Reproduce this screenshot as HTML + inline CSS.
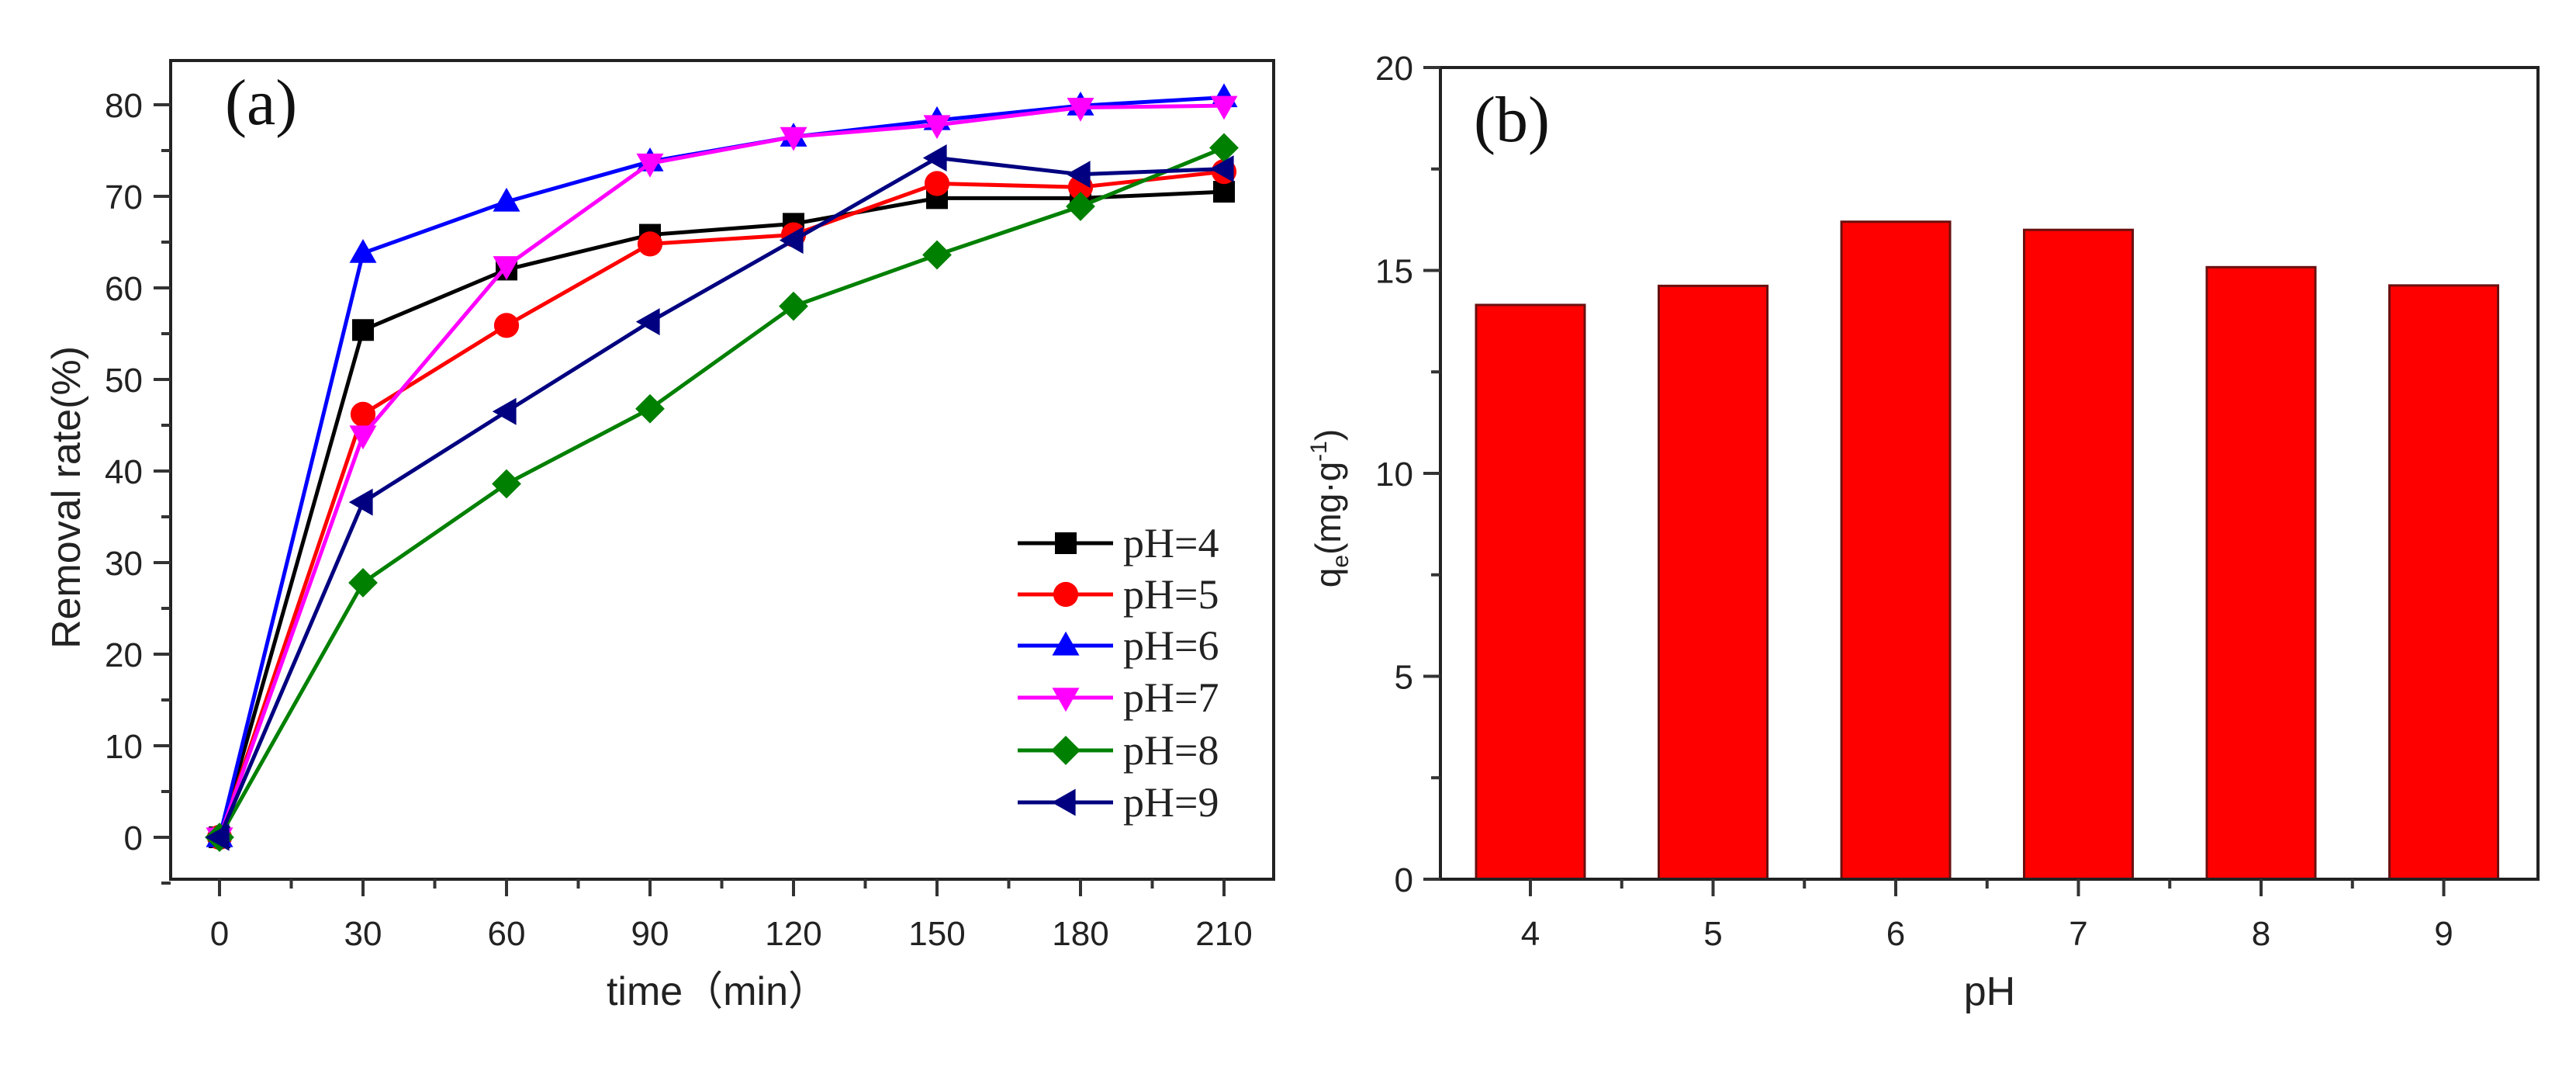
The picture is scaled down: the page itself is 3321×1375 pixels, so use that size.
<!DOCTYPE html>
<html><head><meta charset="utf-8"><style>
html,body{margin:0;padding:0;background:#fff;}
svg{display:block;}
</style></head><body>
<svg id="fig" width="3321" height="1375" viewBox="0 0 3321 1375" xmlns="http://www.w3.org/2000/svg">
<rect x="0" y="0" width="3321" height="1375" fill="#fff"/>
<g id="pa"></g>
<g id="pb"></g>
</svg>
<script>
// Panel (a) data
const times = [0, 30, 60, 90, 120, 150, 180, 210];
const seriesLabels = ["pH=4", "pH=5", "pH=6", "pH=7", "pH=8", "pH=9"];
const pH4 = [0, 55.4, 62.0, 65.8, 67.0, 69.8, 69.8, 70.5];
const pH5 = [0, 46.2, 55.9, 64.8, 65.8, 71.4, 71.0, 72.7];
const pH6 = [0, 63.8, 69.4, 73.8, 76.5, 78.3, 79.9, 80.8];
const pH7 = [0, 43.9, 62.4, 73.6, 76.5, 77.8, 79.7, 79.9];
const pH8 = [0, 27.8, 38.6, 46.8, 58.0, 63.6, 68.9, 75.3];
const pH9 = [0, 36.6, 46.5, 56.3, 65.2, 74.2, 72.4, 73.0];
const xTicksA = [0, 30, 60, 90, 120, 150, 180, 210];
const yTicksA = [0, 10, 20, 30, 40, 50, 60, 70, 80];
// Panel (b) data
const phCats = [4, 5, 6, 7, 8, 9];
const qeVals = [14.15, 14.62, 16.2, 16.0, 15.08, 14.63];
const yTicksB = [0, 5, 10, 15, 20];

const NS = "http://www.w3.org/2000/svg";
function mk(parent, tag, attrs, text) {
  const e = document.createElementNS(NS, tag);
  for (const k in attrs) e.setAttribute(k, attrs[k]);
  if (text !== undefined) e.textContent = text;
  parent.appendChild(e);
  return e;
}
const SANS = '"Liberation Sans", Arial, sans-serif';
const SERIF = '"Liberation Serif", "Times New Roman", serif';

// ---------- Panel A ----------
const pa = document.getElementById('pa');
const A = {l: 220, r: 1642, t: 78, b: 1133};
const ax = t => 283 + (t - 0) * (1578 - 283) / 210;
const ay = v => 1079 - v * 11.8;

let e = mk(pa, 'rect', {x: A.l, y: A.t, width: A.r - A.l, height: A.b - A.t, fill: 'none', stroke: '#222', 'stroke-width': 4});



xTicksA.forEach(t => {
  const x = ax(t);
  let tk = mk(pa, 'line', {x1: x, y1: A.b, x2: x, y2: A.b + 22, stroke: '#333', 'stroke-width': 4});
  
  
  let lb = mk(pa, 'text', {x: x, y: A.b + 85, 'font-family': SANS, 'font-size': 44, 'text-anchor': 'middle', fill: '#222'}, String(t));
  
  
});
xTicksA.slice(0, -1).forEach(t => {
  const x = ax(t + 15);
  let tk = mk(pa, 'line', {x1: x, y1: A.b, x2: x, y2: A.b + 12, stroke: '#333', 'stroke-width': 4});
  
  
});
yTicksA.forEach(v => {
  const y = ay(v);
  let tk = mk(pa, 'line', {x1: A.l - 22, y1: y, x2: A.l, y2: y, stroke: '#333', 'stroke-width': 4});
  
  
  let lb = mk(pa, 'text', {x: 184, y: y + 16, 'font-family': SANS, 'font-size': 44, 'text-anchor': 'end', fill: '#222'}, String(v));
  
  
});
[-5, 5, 15, 25, 35, 45, 55, 65, 75].forEach(v => {
  const y = ay(v);
  let tk = mk(pa, 'line', {x1: A.l - 12, y1: y, x2: A.l, y2: y, stroke: '#333', 'stroke-width': 4});
  
  
});

e = mk(pa, 'text', {x: 0, y: 0, transform: 'translate(103,641) rotate(-90)', 'font-family': SANS, 'font-size': 52, 'text-anchor': 'middle', fill: '#222'}, 'Removal rate(%)');


e = mk(pa, 'text', {x: 925, y: 1295, 'font-family': '"Liberation Sans", "Noto Sans CJK SC", sans-serif', 'font-size': 52, 'text-anchor': 'middle', fill: '#222'}, 'time（min）');


e = mk(pa, 'text', {x: 290, y: 160, 'font-family': SERIF, 'font-size': 84, fill: '#111'}, '(a)');



const allSeries = [pH4, pH5, pH6, pH7, pH8, pH9];
const colors = ['#000000', '#ff0000', '#0000ff', '#ff00ff', '#008000', '#000080'];
const shapes = ['square', 'circle', 'up', 'down', 'diamond', 'left'];
function marker(g, shape, x, y, c, s) {
  let m;
  if (shape === 'square') m = mk(g, 'rect', {x: x - s, y: y - s, width: 2 * s, height: 2 * s, fill: c});
  else if (shape === 'circle') m = mk(g, 'circle', {cx: x, cy: y, r: s * 1.15, fill: c});
  else if (shape === 'up') m = mk(g, 'polygon', {points: `${x},${y - s * 1.3} ${x - s * 1.25},${y + s * 0.9} ${x + s * 1.25},${y + s * 0.9}`, fill: c});
  else if (shape === 'down') m = mk(g, 'polygon', {points: `${x},${y + s * 1.3} ${x - s * 1.25},${y - s * 0.9} ${x + s * 1.25},${y - s * 0.9}`, fill: c});
  else if (shape === 'diamond') m = mk(g, 'polygon', {points: `${x},${y - s * 1.35} ${x + s * 1.35},${y} ${x},${y + s * 1.35} ${x - s * 1.35},${y}`, fill: c});
  else m = mk(g, 'polygon', {points: `${x - s * 1.3},${y} ${x + s * 0.9},${y - s * 1.25} ${x + s * 0.9},${y + s * 1.25}`, fill: c});
  return m;
}
allSeries.forEach((vals, i) => {
  const g = mk(pa, 'g', {});
  
  
  const pts = vals.map((v, j) => ax(times[j]) + ',' + ay(v)).join(' ');
  const pl = mk(g, 'polyline', {points: pts, fill: 'none', stroke: colors[i], 'stroke-width': 5});
  
  
  vals.forEach((v, j) => {
    const m = marker(g, shapes[i], ax(times[j]), ay(v), colors[i], 14);
    
    
  });
});
// legend
const legY = [700, 766, 832, 899, 967, 1034];
const lg = mk(pa, 'g', {});


seriesLabels.forEach((lab, i) => {
  const g = mk(lg, 'g', {});
  
  
  mk(g, 'line', {x1: 1312, y1: legY[i], x2: 1435, y2: legY[i], stroke: colors[i], 'stroke-width': 5});
  marker(g, shapes[i], 1374, legY[i], colors[i], 14);
  mk(g, 'text', {x: 1448, y: legY[i] + 18, 'font-family': SERIF, 'font-size': 54, fill: '#222'}, lab);
});

// ---------- Panel B ----------
const pb = document.getElementById('pb');
const B = {l: 1857, r: 3272, t: 87, b: 1133};
const bx = c => 1973 + (c - 4) * 235.5;
const by = v => 1133 - v * 52.3;

phCats.forEach((c, i) => {
  const r = mk(pb, 'rect', {x: bx(c) - 70, y: by(qeVals[i]), width: 140, height: by(0) - by(qeVals[i]), fill: '#ff0000', stroke: '#6a1010', 'stroke-width': 3});
  
  
});
e = mk(pb, 'rect', {x: B.l, y: B.t, width: B.r - B.l, height: B.b - B.t, fill: 'none', stroke: '#222', 'stroke-width': 4});


phCats.forEach(c => {
  const x = bx(c);
  let tk = mk(pb, 'line', {x1: x, y1: B.b, x2: x, y2: B.b + 22, stroke: '#333', 'stroke-width': 4});
  
  
  let lb = mk(pb, 'text', {x: x, y: B.b + 85, 'font-family': SANS, 'font-size': 44, 'text-anchor': 'middle', fill: '#222'}, String(c));
  
  
  if (c < 9) {
    let mt = mk(pb, 'line', {x1: bx(c + 0.5), y1: B.b, x2: bx(c + 0.5), y2: B.b + 12, stroke: '#333', 'stroke-width': 4});
    
    
  }
});
yTicksB.forEach(v => {
  const y = by(v);
  let tk = mk(pb, 'line', {x1: B.l - 22, y1: y, x2: B.l, y2: y, stroke: '#333', 'stroke-width': 4});
  
  
  let lb = mk(pb, 'text', {x: 1822, y: y + 16, 'font-family': SANS, 'font-size': 44, 'text-anchor': 'end', fill: '#222'}, String(v));
  
  
  if (v < 20) {
    let mt = mk(pb, 'line', {x1: B.l - 12, y1: by(v + 2.5), x2: B.l, y2: by(v + 2.5), stroke: '#333', 'stroke-width': 4});
    
    
  }
});
e = mk(pb, 'text', {x: 0, y: 0, transform: 'translate(1728,655) rotate(-90)', 'font-family': SANS, 'font-size': 46, 'text-anchor': 'middle', fill: '#222'});


mk(e, 'tspan', {}, 'q');
mk(e, 'tspan', {'font-size': 30, dy: 10}, 'e');
mk(e, 'tspan', {dy: -10}, '(mg·g');
mk(e, 'tspan', {'font-size': 30, dy: -18}, '-1');
mk(e, 'tspan', {dy: 18}, ')');
e = mk(pb, 'text', {x: 2565, y: 1295, 'font-family': SANS, 'font-size': 52, 'text-anchor': 'middle', fill: '#222'}, 'pH');


e = mk(pb, 'text', {x: 1900, y: 182, 'font-family': SERIF, 'font-size': 84, fill: '#111'}, '(b)');


</script>
</body></html>
